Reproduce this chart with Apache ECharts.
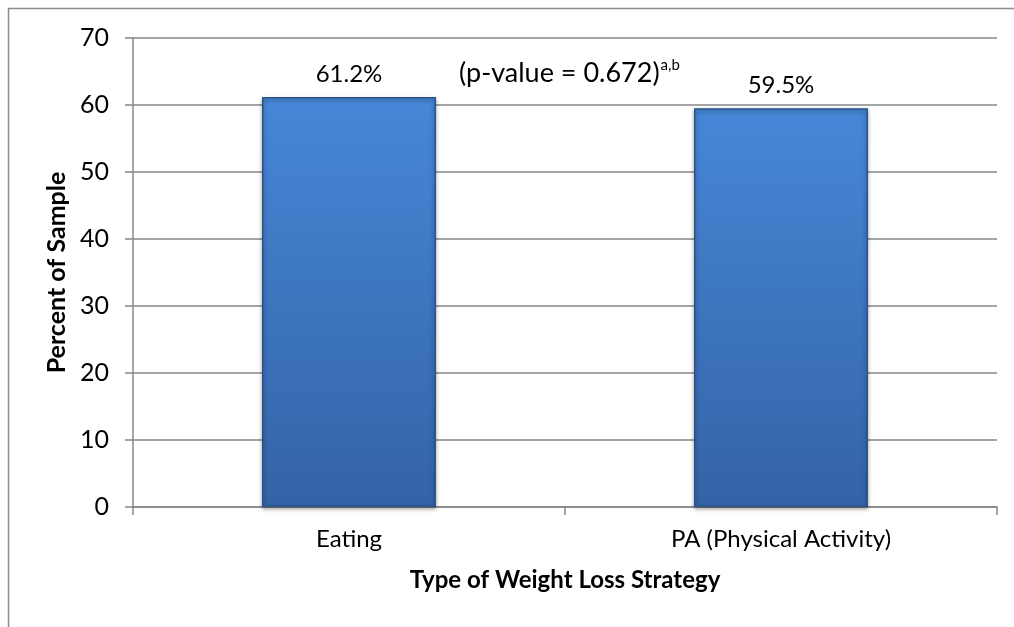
<!DOCTYPE html>
<html>
	<head>
		<meta charset="UTF-8">
		<title></title>
		<script src="https://cdn.jsdelivr.net/npm/echarts@6/dist/echarts.min.js"></script>
		<style>
			body { margin: 0; background: #fff; }
		</style>
	</head>
	<body>
		<div id="chart" style="width: 1014px;height:627px;"></div>
	</body>
</html>

<script type="text/javascript">
	var categories = ['Eating', 'PA (Physical Activity)'];
	var percents = [61.2, 59.5];
	var pLabel = '(p-value = 0.672)';
	var pSup = 'a,b';

	var font = 'Lato';
	var grey = '#878787';

	var chart = echarts.init(document.getElementById('chart'));
	chart.setOption({
		animation: false,
		grid: {
			left: 133,
			right: 17,
			top: 38,
			bottom: 120
		},
		graphic: [
			// outer frame (only top and left visible)
			{
				type: 'polyline',
				shape: { points: [[8.5, 627], [8.5, 8.5], [1014, 8.5]] },
				style: { stroke: '#8c8c8c', lineWidth: 1.5, fill: null }
			},
			{
				type: 'text',
				left: 459,
				top: 58,
				style: {
					text: '{m|' + pLabel + '}{s|' + pSup + '}',
					rich: {
						m: { fontFamily: font, fontSize: 27, fill: '#000', verticalAlign: 'bottom' },
						s: { fontFamily: font, fontSize: 15, fill: '#000', verticalAlign: 'top', padding: [0, 0, 14, 1] }
					}
				}
			}
		],
		xAxis: {
			type: 'category',
			data: categories,
			name: 'Type of Weight Loss Strategy',
			nameLocation: 'middle',
			nameGap: 61,
			nameTextStyle: { fontFamily: font, fontSize: 24, fontWeight: 'bold', color: '#000' },
			axisLine: { lineStyle: { color: grey, width: 1.5 } },
			axisTick: { show: true, length: 8, lineStyle: { color: grey, width: 1.5 } },
			axisLabel: { fontFamily: font, fontSize: 24, color: '#000', margin: 20 }
		},
		yAxis: {
			type: 'value',
			min: 0,
			max: 70,
			interval: 10,
			name: 'Percent of Sample',
			nameLocation: 'middle',
			nameGap: 62,
			nameTextStyle: { fontFamily: font, fontSize: 25, fontWeight: 'bold', color: '#000' },
			axisLine: { show: true, lineStyle: { color: grey, width: 1.5 } },
			axisTick: { show: true, length: 8, lineStyle: { color: grey, width: 1.5 } },
			axisLabel: { fontFamily: font, fontSize: 25, color: '#000', margin: 24 },
			splitLine: { lineStyle: { color: grey, width: 1.5 } }
		},
		series: [{
			type: 'bar',
			data: percents,
			barWidth: 174,
			itemStyle: {
				color: new echarts.graphic.LinearGradient(0, 0, 0, 1, [
					{ offset: 0, color: '#4687d7' },
					{ offset: 1, color: '#3463a6' }
				]),
				borderColor: '#2b548a',
				borderWidth: 1.5,
				shadowColor: 'rgba(0,0,0,0.4)',
				shadowBlur: 4,
				shadowOffsetY: 2
			},
			label: {
				show: true,
				position: 'top',
				distance: 11,
				fontFamily: font,
				fontSize: 24,
				color: '#000',
				formatter: function (p) { return p.value.toFixed(1) + '%'; }
			}
		}]
	});
</script>
